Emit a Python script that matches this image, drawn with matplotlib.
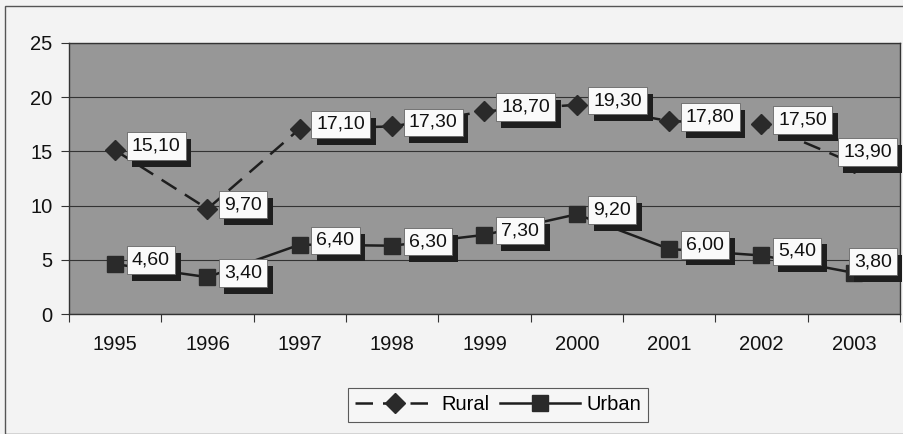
import matplotlib
matplotlib.use("Agg")
import matplotlib.pyplot as plt
from matplotlib.lines import Line2D
from matplotlib.patches import Rectangle
import matplotlib.patheffects as pe

years = ["1995", "1996", "1997", "1998", "1999", "2000", "2001", "2002", "2003"]
rural = [15.10, 9.70, 17.10, 17.30, 18.70, 19.30, 17.80, 17.50, 13.90]
urban = [4.60, 3.40, 6.40, 6.30, 7.30, 9.20, 6.00, 5.40, 3.80]
yticks = [0, 5, 10, 15, 20, 25]

plt.rcParams['font.family'] = ['Liberation Sans', 'DejaVu Sans']

fig = plt.figure(figsize=(9.04, 4.34), dpi=100, facecolor='#f3f3f3')
fig.patches.append(Rectangle((5/904, 0), 1.0, 1 - 6/434, transform=fig.transFigure,
                             fill=False, edgecolor='#555555', linewidth=1.0))

ax = fig.add_axes([69/904, 1 - 314/434, 831/904, 271/434])
ax.set_facecolor('#979797')
x = list(range(len(years)))

DASH = (0, (7, 4))
ax.plot(x, rural, color='#1e1e1e', linestyle=DASH, linewidth=1.8,
        marker='D', markersize=10, markerfacecolor='#2a2a2a', markeredgecolor='#2a2a2a',
        label='Rural', zorder=3)
ax.plot(x, urban, color='#1e1e1e', linestyle='-', linewidth=1.8,
        marker='s', markersize=11, markerfacecolor='#2a2a2a', markeredgecolor='#2a2a2a',
        label='Urban', zorder=3)

FS = 14
last = len(years) - 1
shadow = [pe.SimplePatchShadow(offset=(4, -5), shadow_rgbFace='#1e1e1e', alpha=1.0), pe.Normal()]

def label(xi, yi):
    txt = f"{yi:.2f}".replace('.', ',')
    if xi == last:
        xy = (1.0, yi)
        xyc = ('axes fraction', 'data')
        dx, dy, ha = -6, 8, 'right'
    else:
        xy = (xi, yi)
        xyc = 'data'
        dx, dy, ha = 12, 3, 'left'
    t = ax.annotate(txt, xy, xycoords=xyc, xytext=(dx, dy), textcoords='offset points',
                    ha=ha, va='center', fontsize=FS, color='#111111',
                    bbox=dict(boxstyle='square,pad=0.27', fc='#fafafa', ec='#666666', lw=0.6),
                    zorder=5)
    t.get_bbox_patch().set_path_effects(shadow)

for xi, yi in zip(x, rural):
    label(xi, yi)
for xi, yi in zip(x, urban):
    label(xi, yi)

ax.set_xlim(-0.5, len(years) - 0.5)
ax.set_ylim(0, 25)
ax.set_yticks(yticks)
ax.set_yticklabels([str(t) for t in yticks], fontsize=14.5, color='#111111')
ax.yaxis.grid(True, color='#333333', linewidth=0.8)
ax.set_axisbelow(True)

ax.set_xticks([i - 0.5 for i in range(len(years) + 1)])
ax.set_xticklabels([])
ax.set_xticks(x, minor=True)
ax.set_xticklabels(years, minor=True, fontsize=14.5, color='#111111')
ax.tick_params(axis='x', which='major', length=6, color='#333333')
ax.tick_params(axis='x', which='minor', length=0, pad=15)
ax.tick_params(axis='y', length=6, color='#333333', pad=6)
for s in ax.spines.values():
    s.set_color('#333333')
    s.set_linewidth(1.0)

handles = [Line2D([], [], color='#1e1e1e', linestyle=DASH, linewidth=1.8, marker='D',
                  markersize=10, markerfacecolor='#2a2a2a', markeredgecolor='#2a2a2a'),
           Line2D([], [], color='#1e1e1e', linestyle='-', linewidth=1.8, marker='s',
                  markersize=11, markerfacecolor='#2a2a2a', markeredgecolor='#2a2a2a')]
leg = fig.legend(handles, ['Rural', 'Urban'], loc='center', bbox_to_anchor=(498/904, 1 - 405/434),
                 ncol=2, fontsize=14.5, frameon=True, fancybox=False, handlelength=4.0,
                 columnspacing=0.5, handletextpad=0.3, borderpad=0.35)
leg.get_frame().set_edgecolor('#333333')
leg.get_frame().set_facecolor('#f7f7f7')
leg.get_frame().set_linewidth(0.8)

fig.savefig('out.png', dpi=100, facecolor=fig.get_facecolor())
